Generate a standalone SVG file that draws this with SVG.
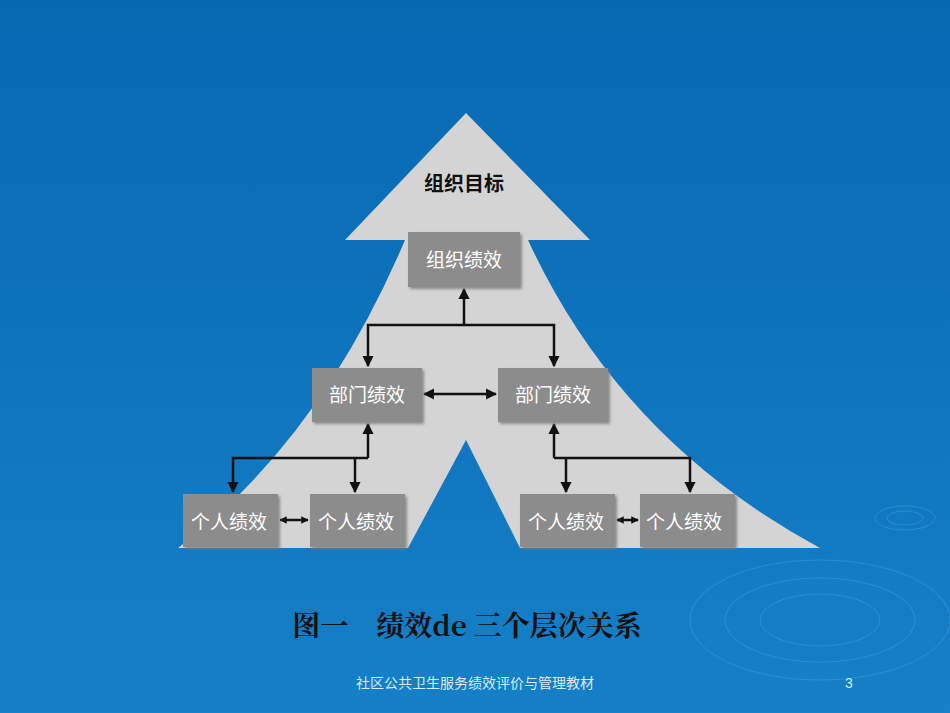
<svg xmlns="http://www.w3.org/2000/svg" width="950" height="713" viewBox="0 0 950 713">
<defs>
<linearGradient id="bg" x1="0" y1="0" x2="0" y2="1"><stop offset="0" stop-color="#0768b2"/><stop offset="1" stop-color="#1580c8"/></linearGradient>
<marker id="ah" viewBox="0 0 10 10" refX="9" refY="5" markerWidth="4.5" markerHeight="4.5" orient="auto-start-reverse"><path d="M0,0L10,5L0,10z" fill="#111"/></marker>
<marker id="as" viewBox="0 0 10 10" refX="9" refY="5" markerWidth="3" markerHeight="3.5" orient="auto-start-reverse"><path d="M0,0L10,5L0,10z" fill="#111"/></marker>
<filter id="sh"><feDropShadow dx="2" dy="2" stdDeviation="1.5" flood-color="#777" flood-opacity="0.8"/></filter>
<style>
.box{fill:#8c8c8c;filter:url(#sh)}
.bt{fill:#fff;font-family:"Noto Sans CJK SC",sans-serif;font-size:19px;text-anchor:middle}
.ln{stroke:#111;stroke-width:2.5;fill:none}
.rip{fill:none;stroke:#5cb0e6;stroke-opacity:0.35}
</style>
</defs>
<rect width="950" height="713" fill="url(#bg)"/>
<g class="rip">
<ellipse cx="905" cy="518" rx="30" ry="12"/><ellipse cx="905" cy="518" rx="18" ry="7"/>
<ellipse cx="820" cy="620" rx="130" ry="60"/><ellipse cx="820" cy="620" rx="95" ry="42"/><ellipse cx="820" cy="620" rx="60" ry="26"/>
</g>
<path d="M466,113 L590,240 L528,240 Q620,440 820,548 L520,548 L466,440 L408,548 L178,548 Q320,440 405,240 L345,240 Z" fill="#d4d4d4"/>
<text x="464" y="191" font-family="'Noto Sans CJK SC',sans-serif" font-size="20" font-weight="bold" text-anchor="middle" fill="#111">组织目标</text>
<g id="connectors">
<path class="ln" d="M464,325 L464,289" marker-end="url(#ah)"/>
<path class="ln" d="M368,366 L368,325 L554,325 L554,366" marker-start="url(#ah)" marker-end="url(#ah)"/>
<path class="ln" d="M424,394 L496,394" marker-start="url(#ah)" marker-end="url(#ah)"/>
<path class="ln" d="M368,458 L368,424" marker-end="url(#ah)"/>
<path class="ln" d="M233,492 L233,458 L368,458 L355,458 L355,492" marker-start="url(#ah)" marker-end="url(#ah)"/>
<path class="ln" d="M280,520 L308,520" marker-start="url(#as)" marker-end="url(#as)"/>
<path class="ln" d="M554,458 L554,424" marker-end="url(#ah)"/>
<path class="ln" d="M566,492 L566,458 L554,458 L690,458 L690,492" marker-start="url(#ah)" marker-end="url(#ah)"/>
<path class="ln" d="M617,520 L638,520" marker-start="url(#as)" marker-end="url(#as)"/>
</g>
<g id="org"><rect class="box" x="408" y="232" width="112" height="55"/><text class="bt" x="464" y="267">组织绩效</text></g>
<g id="dept1"><rect class="box" x="312" y="368" width="110" height="54"/><text class="bt" x="367" y="402">部门绩效</text></g>
<g id="dept2"><rect class="box" x="498" y="368" width="110" height="54"/><text class="bt" x="553" y="402">部门绩效</text></g>
<g id="p1"><rect class="box" x="183" y="494" width="95" height="53"/><text class="bt" x="229" y="529">个人绩效</text></g>
<g id="p2"><rect class="box" x="310" y="494" width="95" height="53"/><text class="bt" x="356" y="529">个人绩效</text></g>
<g id="p3"><rect class="box" x="520" y="494" width="95" height="53"/><text class="bt" x="566" y="529">个人绩效</text></g>
<g id="p4"><rect class="box" x="640" y="494" width="95" height="53"/><text class="bt" x="684" y="529">个人绩效</text></g>
<text x="467" y="636" font-family="'Noto Serif CJK SC','Noto Sans CJK SC',serif" font-size="28" font-weight="bold" text-anchor="middle" fill="#111" xml:space="preserve">图一　绩效de 三个层次关系</text>
<text x="475" y="688" font-family="'Noto Sans CJK SC',sans-serif" font-size="14" text-anchor="middle" fill="#d8ecf8">社区公共卫生服务绩效评价与管理教材</text>
<text x="849" y="688" font-family="'Liberation Sans',sans-serif" font-size="14" text-anchor="middle" fill="#d8ecf8">3</text>
</svg>
